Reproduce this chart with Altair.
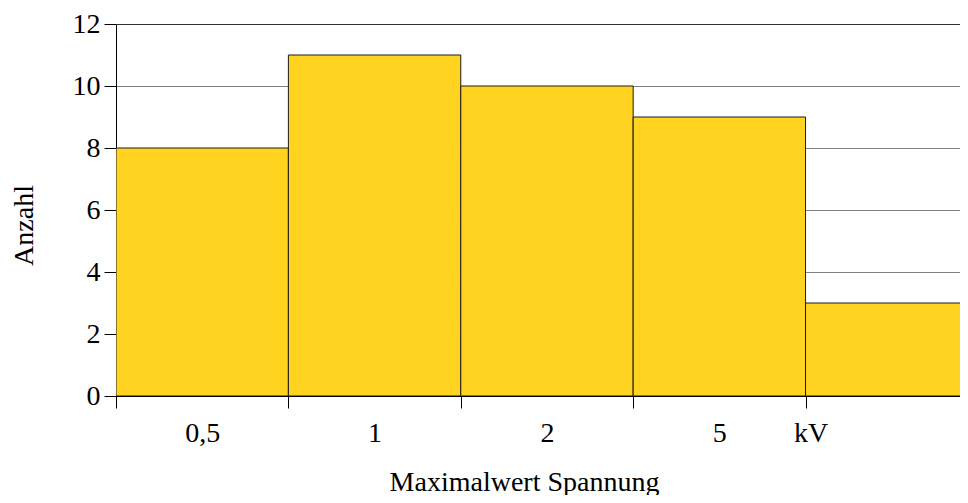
import altair as alt
import pandas as pd

# Data
bin_start = [0, 1, 2, 3, 4]
bin_end = [1, 2, 3, 4, 5]
counts = [8, 11, 10, 9, 3]
tick_pos = [0, 1, 2, 3, 4]
label_pos = [0.5, 1.5, 2.5, 3.5, 4.03]
label_text = ["0,5", "1", "2", "5", "kV"]
y_ticks = [0, 2, 4, 6, 8, 10, 12]

df = pd.DataFrame({"x0": bin_start, "x1": bin_end, "count": counts})

label_expr = "".join(
    f"datum.value == {p} ? '{t}' : " for p, t in zip(label_pos, label_text)
) + "''"
axis_values = sorted(tick_pos + label_pos)
tick_test = "indexof([" + ",".join(str(t) for t in tick_pos) + "], datum.value) >= 0"

FONT = "Liberation Serif"

x_axis = alt.Axis(
    values=axis_values,
    labelExpr=label_expr,
    labelOverlap=False,
    labelFlush=False,
    labelFont=FONT,
    labelFontSize=28,
    labelColor="black",
    labelBaseline="alphabetic",
    labelPadding=33,
    tickSize=12,
    tickColor="black",
    tickOpacity={"condition": {"test": tick_test, "value": 1}, "value": 0},
    domainColor="black",
    grid=False,
    title="Maximalwert Spannung",
    titleFont=FONT,
    titleFontSize=28,
    titleFontWeight="normal",
    titleColor="black",
    titleAnchor="start",
    titleAlign="center",
    titleBaseline="alphabetic",
    titleX=408,
    titleY=94,
)

y_axis = alt.Axis(
    values=y_ticks,
    labelFont=FONT,
    labelFontSize=28,
    labelColor="black",
    labelPadding=4,
    labelFlush=False,
    tickSize=12,
    tickColor="black",
    domainColor="black",
    grid=True,
    gridColor={"condition": {"test": "datum.value == 12", "value": "#333333"}, "value": "#808080"},
    title="Anzahl",
    titleFont=FONT,
    titleFontSize=28,
    titleFontWeight="normal",
    titleColor="black",
    titleAngle=270,
    titleAlign="center",
    titleBaseline="alphabetic",
    titleX=-84,
    titleY=201,
)

chart = (
    alt.Chart(df)
    .mark_bar(fill="#FFD320", stroke="#1a1a1a", strokeWidth=1, clip=True)
    .encode(
        x=alt.X("x0:Q", scale=alt.Scale(domain=[0, 4.896], nice=False, zero=False), axis=x_axis),
        x2="x1:Q",
        y=alt.Y("count:Q", scale=alt.Scale(domain=[0, 12], nice=False), axis=y_axis),
        y2=alt.datum(0),
    )
    .properties(
        width=844,
        height=372,
        autosize=alt.AutoSizeParams(type="none"),
        padding={"left": 108, "top": 16, "right": 0, "bottom": 99},
        background="white",
    )
    .configure_view(stroke=None)
)

chart.save("out.html", embed_options={"renderer": "svg", "actions": False})
